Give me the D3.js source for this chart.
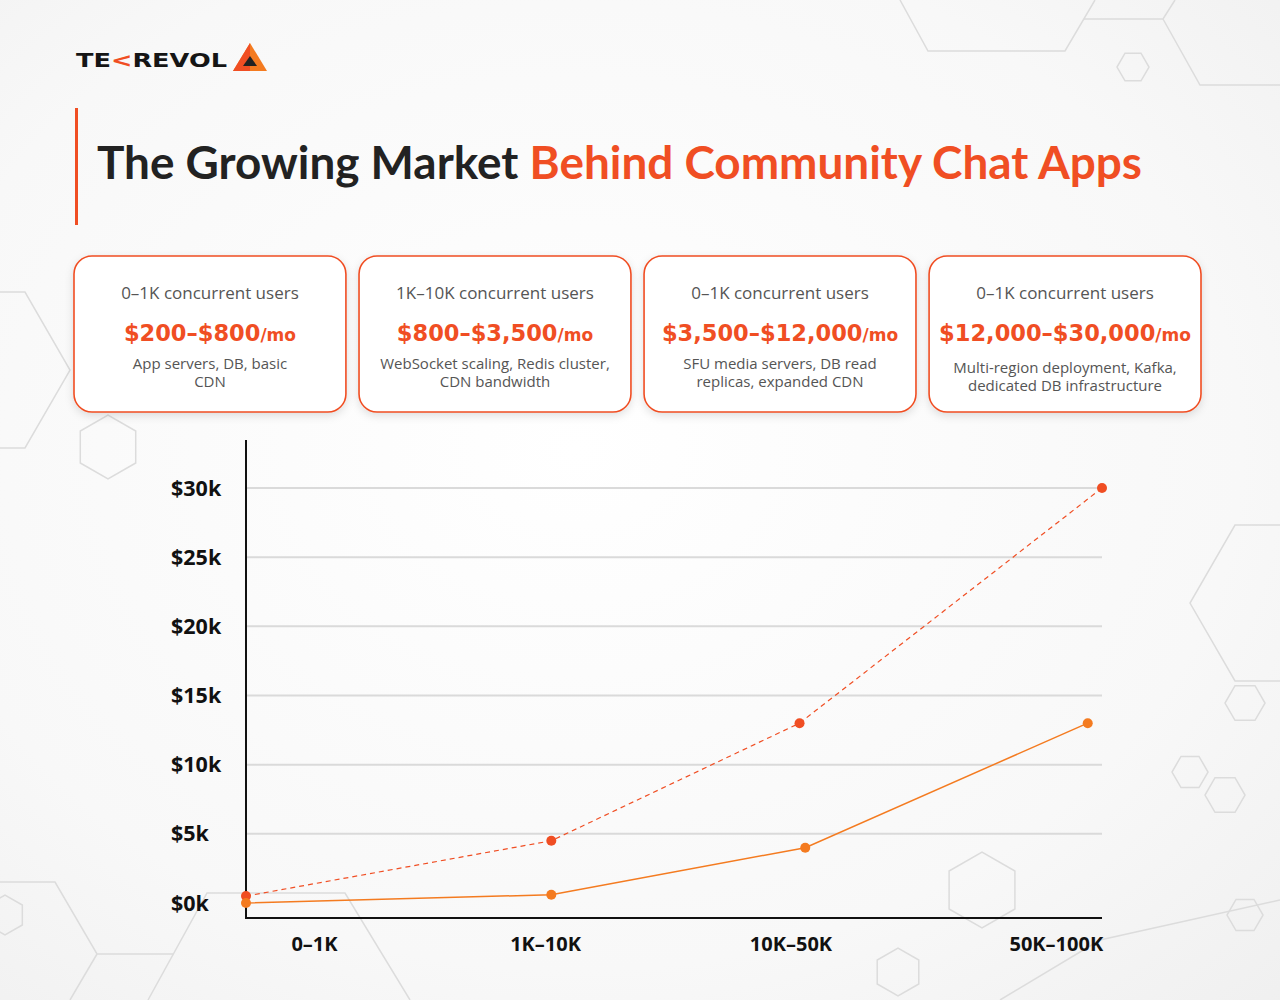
<!DOCTYPE html>
<html><head><meta charset="utf-8">
<script src="https://cdn.jsdelivr.net/npm/d3@7"></script>
<style>
html,body{margin:0;padding:0;background:#f5f5f5;}
svg{display:block;}
</style></head>
<body>
<svg id="chart" width="1280" height="1000"></svg>
<script>
// ---------- data ----------
const categories = ["0–1K", "1K–10K", "10K–50K", "50K–100K"];
const upperValues = [500, 4500, 13000, 30000];   // dashed series (monthly cost, upper)
const lowerValues = [0, 600, 4000, 13000];       // solid series (monthly cost, lower)
const upperPos = [0, 1.07, 1.94, 3.0];          // x position in category units
const lowerPos = [0, 1.07, 1.96, 2.95];
const labelPos = [0.24, 1.05, 1.91, 2.84];
const yTicks = [0, 5000, 10000, 15000, 20000, 25000, 30000];
const yTickLabels = ["$0k", "$5k", "$10k", "$15k", "$20k", "$25k", "$30k"];

const cardTitles = ["0–1K concurrent users", "1K–10K concurrent users", "0–1K concurrent users", "0–1K concurrent users"];
const cardPrices = ["$200–$800", "$800–$3,500", "$3,500–$12,000", "$12,000–$30,000"];
const cardDescs = [
  ["App servers, DB, basic", "CDN"],
  ["WebSocket scaling, Redis cluster,", "CDN bandwidth"],
  ["SFU media servers, DB read", "replicas, expanded CDN"],
  ["Multi-region deployment, Kafka,", "dedicated DB infrastructure"]
];
const titleDark = "The Growing Market ";
const titleOrange = "Behind Community Chat Apps";

// ---------- setup ----------
const ORANGE = "#F04E23", ORANGE2 = "#F47B20";
const FONT = "Lato, 'Noto Sans', sans-serif";
const FONT2 = "'Open Sans', 'Noto Sans', sans-serif";
const FONT3 = "'DejaVu Sans', 'Open Sans', sans-serif";
const svg = d3.select("#chart");
const defs = svg.append("defs");

const rg = defs.append("radialGradient").attr("id", "bg").attr("cx", "45%").attr("cy", "45%").attr("r", "80%");
rg.append("stop").attr("offset", "0%").attr("stop-color", "#ffffff");
rg.append("stop").attr("offset", "65%").attr("stop-color", "#f8f8f8");
rg.append("stop").attr("offset", "100%").attr("stop-color", "#efefef");
svg.append("rect").attr("width", 1280).attr("height", 1000).attr("fill", "url(#bg)");

const sh = defs.append("filter").attr("id", "shadow").attr("x", "-10%").attr("y", "-10%").attr("width", "120%").attr("height", "130%");
sh.append("feDropShadow").attr("dx", 0).attr("dy", 3).attr("stdDeviation", 4).attr("flood-color", "#000").attr("flood-opacity", 0.12);

function fit(sel, w) {
  const cur = sel.node().getComputedTextLength();
  const fs = parseFloat(sel.attr("font-size"));
  sel.attr("font-size", fs * w / cur);
}

// decorative hexagons
const deco = svg.append("g").attr("fill", "none").attr("stroke", "#dcdcdc").attr("stroke-width", 1.5);
function hex(cx, cy, r, rot) {
  const pts = d3.range(6).map(i => {
    const a = (Math.PI / 3) * i + (rot || 0);
    return [cx + r * Math.cos(a), cy + r * Math.sin(a)];
  });
  deco.append("polygon").attr("points", pts.map(p => p.join(",")).join(" "));
}
deco.append("polyline").attr("points", "900,0 928,51 1065,51 1095,0");
deco.append("polyline").attr("points", "1084,19 1163,19 1175,0");
deco.append("polyline").attr("points", "1163,19 1200,85 1280,85");
hex(1133, 67, 16, 0);
hex(-20, 370, 90, 0);
hex(108, 447, 32, Math.PI / 6);
hex(1280, 603, 90, 0);
hex(1245, 703, 20, 0);
hex(1190, 772, 18, 0);
hex(1225, 795, 20, 0);
hex(982, 890, 38, Math.PI / 6);
hex(898, 972, 24, Math.PI / 6);
hex(1245, 915, 18, 0);
hex(5, 915, 20, Math.PI / 6);
deco.append("polyline").attr("points", "148,1000 207,893 345,893 410,1000");
deco.append("polyline").attr("points", "0,882 55,882 97,954 173,954");
deco.append("polyline").attr("points", "97,954 70,1000");
deco.append("polyline").attr("points", "1000,1000 1100,940 1280,900");

// ---------- logo ----------
const logo = svg.append("text").attr("x", 76).attr("y", 67)
  .attr("font-family", FONT3).attr("font-weight", 700).attr("font-size", 20)
  .attr("fill", "#151515");
logo.append("tspan").text("TE");
logo.append("tspan").attr("fill", ORANGE).text("<");
logo.append("tspan").text("REVOL");
logo.attr("textLength", 151).attr("lengthAdjust", "spacingAndGlyphs");
svg.append("polygon").attr("points", "250,43 233,71 267,71").attr("fill", ORANGE2);
svg.append("polygon").attr("points", "250,43 233,71 250,71").attr("fill", ORANGE);
svg.append("polygon").attr("points", "250,56 243,66 257,66").attr("fill", "#222");

// ---------- title ----------
svg.append("rect").attr("x", 75).attr("y", 108).attr("width", 3).attr("height", 117).attr("fill", ORANGE);
const title = svg.append("text").attr("x", 97).attr("y", 179)
  .attr("font-family", FONT).attr("font-weight", 700).attr("font-size", 44);
title.append("tspan").attr("fill", "#222").text(titleDark);
title.append("tspan").attr("fill", ORANGE).text(titleOrange);
fit(title, 1045);

// ---------- cards ----------
const cardX = d3.scaleBand().domain(d3.range(4)).range([74, 1201]).paddingInner(0.046);
const cards = svg.selectAll("g.card").data(d3.range(4)).join("g").attr("class", "card")
  .attr("transform", i => `translate(${cardX(i)},256)`);
cards.append("rect").attr("width", cardX.bandwidth()).attr("height", 156).attr("rx", 18)
  .attr("fill", "#fff").attr("stroke", ORANGE).attr("stroke-width", 1.6).attr("filter", "url(#shadow)");
cards.append("text").attr("x", cardX.bandwidth() / 2).attr("y", 43).attr("text-anchor", "middle")
  .attr("font-family", FONT2).attr("font-size", 17).attr("fill", "#555").text(i => cardTitles[i]);
const pt = cards.append("text").attr("x", cardX.bandwidth() / 2).attr("y", 85).attr("text-anchor", "middle")
  .attr("font-family", FONT3).attr("font-weight", 700).attr("fill", ORANGE);
pt.append("tspan").attr("font-size", 22.5).text(i => cardPrices[i]);
pt.append("tspan").attr("font-size", 17).text("/mo");
cards.each(function (i) {
  const g = d3.select(this);
  const y0 = i === 3 ? 117 : 113;
  cardDescs[i].forEach((line, k) => {
    g.append("text").attr("x", cardX.bandwidth() / 2).attr("y", y0 + k * 18).attr("text-anchor", "middle")
      .attr("font-family", FONT2).attr("font-size", 15).attr("fill", "#555").text(line);
  });
});

// ---------- chart ----------
const x = d3.scaleLinear().domain([0, 3]).range([246, 1102]);
const y = d3.scaleLinear().domain([0, 30000]).range([903, 488]);

svg.append("g").selectAll("line").data(yTicks.filter(v => v > 0)).join("line")
  .attr("x1", 246).attr("x2", 1102).attr("y1", d => y(d)).attr("y2", d => y(d))
  .attr("stroke", "#dadada").attr("stroke-width", 2);

svg.append("g").selectAll("text").data(yTicks).join("text")
  .attr("x", 171).attr("y", d => y(d)).attr("dy", "0.35em")
  .attr("font-family", FONT2).attr("font-weight", 700).attr("font-size", 21.5).attr("fill", "#111")
  .text((d, i) => yTickLabels[i]);

svg.append("line").attr("x1", 246).attr("x2", 246).attr("y1", 440).attr("y2", 919).attr("stroke", "#111").attr("stroke-width", 2);
svg.append("line").attr("x1", 245).attr("x2", 1102).attr("y1", 918).attr("y2", 918).attr("stroke", "#111").attr("stroke-width", 2);

svg.append("g").selectAll("text").data(categories).join("text")
  .attr("x", (d, i) => x(labelPos[i])).attr("y", 944).attr("dy", "0.35em").attr("text-anchor", "middle")
  .attr("font-family", FONT2).attr("font-weight", 700).attr("font-size", 20).attr("fill", "#111")
  .text(d => d);

const upper = upperValues.map((v, i) => [upperPos[i], v]);
const lower = lowerValues.map((v, i) => [lowerPos[i], v]);
const line = d3.line().x(d => x(d[0])).y(d => y(d[1]));

svg.append("path").datum(upper).attr("d", line).attr("fill", "none")
  .attr("stroke", ORANGE).attr("stroke-width", 1.2).attr("stroke-dasharray", "5,4");
svg.append("path").datum(lower).attr("d", line).attr("fill", "none")
  .attr("stroke", ORANGE2).attr("stroke-width", 1.5);
svg.append("g").selectAll("circle").data(upper).join("circle")
  .attr("cx", d => x(d[0])).attr("cy", d => y(d[1])).attr("r", 5).attr("fill", ORANGE);
svg.append("g").selectAll("circle").data(lower).join("circle")
  .attr("cx", d => x(d[0])).attr("cy", d => y(d[1])).attr("r", 5).attr("fill", ORANGE2);
</script>
</body></html>
